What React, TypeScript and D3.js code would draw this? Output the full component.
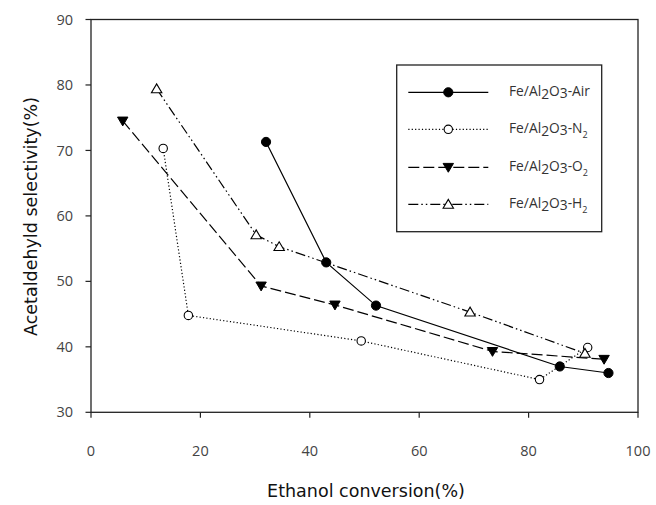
import React from "react";
import * as d3 from "d3";

const xTicks = [0, 20, 40, 60, 80, 100];
const yTicks = [30, 40, 50, 60, 70, 80, 90];

const airX = [32.0, 43.0, 52.1, 85.7, 94.6];
const airY = [71.3, 52.9, 46.3, 37.0, 36.0];
const n2X = [13.2, 17.8, 49.4, 82.0, 90.8];
const n2Y = [70.3, 44.8, 40.9, 35.0, 39.9];
const o2X = [5.8, 31.1, 44.6, 73.4, 93.8];
const o2Y = [74.5, 49.3, 46.4, 39.3, 38.1];
const h2X = [12.0, 30.2, 34.4, 69.3, 90.3];
const h2Y = [79.4, 57.1, 55.3, 45.3, 39.0];

const seriesNames = ["Air", "N", "O", "H"];
const seriesSub = ["", "2", "2", "2"];

const W = 656;
const H = 505;
const L = 91, R = 638, T = 19.5, B = 412.3;

const x = d3.scaleLinear().domain([0, 100]).range([L, R]);
const y = d3.scaleLinear().domain([30, 90]).range([B, T]);

type Series = { xs: number[]; ys: number[]; dash: string; marker: string };
const series: Series[] = [
  { xs: airX, ys: airY, dash: "", marker: "filledCircle" },
  { xs: n2X, ys: n2Y, dash: "1.2,2.2", marker: "openCircle" },
  { xs: o2X, ys: o2Y, dash: "11,4", marker: "downTri" },
  { xs: h2X, ys: h2Y, dash: "10,3,1.5,3,1.5,3", marker: "upTri" },
];

function Marker({ kind, cx, cy }: { kind: string; cx: number; cy: number }) {
  if (kind === "filledCircle") return <circle cx={cx} cy={cy} r={4.6} fill="#000" stroke="#000" strokeWidth={1} />;
  if (kind === "openCircle") return <circle cx={cx} cy={cy} r={4.2} fill="#fff" stroke="#000" strokeWidth={1.1} />;
  const s = 5.2;
  if (kind === "downTri") {
    const p = [[cx - s, cy - s * 0.75], [cx + s, cy - s * 0.75], [cx, cy + s * 0.95]];
    return <path d={d3.line()(p as [number, number][])! + "Z"} fill="#000" stroke="#000" strokeWidth={1} />;
  }
  const p = [[cx - s, cy + s * 0.75], [cx + s, cy + s * 0.75], [cx, cy - s * 0.95]];
  return <path d={d3.line()(p as [number, number][])! + "Z"} fill="#fff" stroke="#000" strokeWidth={1.1} />;
}

export default function App() {
  const lineGen = d3.line<[number, number]>().x((d) => x(d[0])).y((d) => y(d[1]));
  const legendRowsY = [92.3, 129.3, 167.3, 204.3];
  const tickFont = "'Open Sans', 'Noto Sans', sans-serif";
  const titleFont = "'DejaVu Sans', sans-serif";
  return (
    <svg width={W} height={H} style={{ position: "absolute", left: 0, top: 0, background: "#fff" }} fontFamily={tickFont}>
      <rect x={0} y={0} width={W} height={H} fill="#fff" />
      <rect x={L} y={T} width={R - L} height={B - T} fill="none" stroke="#222" strokeWidth={1.3} />
      {yTicks.map((t) => (
        <g key={"y" + t}>
          <line x1={L - 5.5} x2={L} y1={y(t)} y2={y(t)} stroke="#222" strokeWidth={1.2} />
          <text x={73} y={y(t)} dy="0.35em" textAnchor="end" fontSize={14.5} fill="#444">{t}</text>
        </g>
      ))}
      {xTicks.map((t) => (
        <g key={"x" + t}>
          <line x1={x(t)} x2={x(t)} y1={B} y2={B + 5.5} stroke="#222" strokeWidth={1.2} />
          <text x={x(t)} y={451} dy="0.35em" textAnchor="middle" fontSize={14.5} fill="#444">{t}</text>
        </g>
      ))}
      <text x={366} y={497} textAnchor="middle" fontSize={17.5} fontFamily={titleFont} fill="#111">Ethanol conversion(%)</text>
      <text transform="translate(37,216.5) rotate(-90)" textAnchor="middle" fontSize={17.5} fontFamily={titleFont} fill="#111">Acetaldehyld selectivity(%)</text>
      {series.map((s, i) => {
        const pts = s.xs.map((v, j) => [v, s.ys[j]] as [number, number]);
        return (
          <path key={"s" + i} d={lineGen(pts)!} fill="none" stroke="#000" strokeWidth={1.2} strokeDasharray={s.dash || undefined} />
        );
      })}
      {series.map((s, i) => (
        <g key={"m" + i}>
          {s.xs.map((v, j) => (
            <Marker key={j} kind={s.marker} cx={x(v)} cy={y(s.ys[j])} />
          ))}
        </g>
      ))}
      <rect x={396.7} y={65} width={205} height={166.7} fill="#fff" stroke="#222" strokeWidth={1.3} />
      {series.map((s, i) => {
        const ly = legendRowsY[i];
        return (
          <g key={"l" + i}>
            <line x1={408.3} x2={488.3} y1={ly} y2={ly} stroke="#000" strokeWidth={1.2} strokeDasharray={s.dash || undefined} />
            <Marker kind={s.marker} cx={448.3} cy={ly} />
            <text x={509} y={ly} dy="0.3em" fontSize={13.8} fill="#333">
              Fe/Al<tspan dy={3}>2</tspan><tspan dy={-3}>O</tspan><tspan dy={2}>3</tspan><tspan dy={-2}>-{seriesNames[i]}</tspan>
              {seriesSub[i] ? <tspan dy={5} fontSize={9}>{seriesSub[i]}</tspan> : null}
            </text>
          </g>
        );
      })}
    </svg>
  );
}
